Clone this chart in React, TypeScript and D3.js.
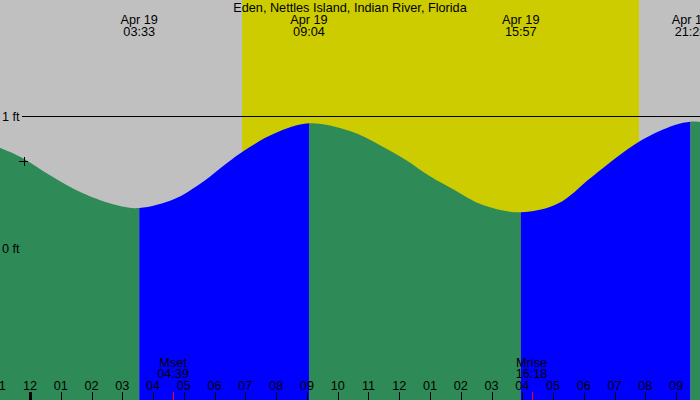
import React from "react";
import * as d3 from "d3";

const W = 700;
const H = 400;

const title = "Eden, Nettles Island, Indian River, Florida";

// Tide curve, hours from midnight Apr 19, height in feet
const tideHours = [-1.0, -0.228, 0.65, 1.72, 2.83, 3.55, 4.71, 5.52, 6.86, 7.96, 9.067, 10.4, 11.375, 12.19, 13.0, 13.81, 14.72, 15.95, 17.16, 18.26, 19.79, 20.96, 21.467, 21.9];
const tideFeet = [0.763, 0.682, 0.553, 0.417, 0.326, 0.305, 0.375, 0.486, 0.722, 0.869, 0.945, 0.886, 0.78, 0.672, 0.545, 0.44, 0.328, 0.273, 0.339, 0.54, 0.805, 0.932, 0.957, 0.953];

// Tide extremes
const extremeHours = [3.55, 9.067, 15.95, 21.467];
const extremeDates = ["Apr 19", "Apr 19", "Apr 19", "Apr 19"];
const extremeTimes = ["03:33", "09:04", "15:57", "21:28"];

// Sun
const sunriseHour = 6.89;
const sunsetHour = 19.79;

// Moon
const moonLabels = ["Mset", "Mrise"];
const moonTimes = ["04:39", "16:18"];
const moonHours = [4.65, 16.3];

// Hour ticks
const hourTicks = [-1, 0, 1, 2, 3, 4, 5, 6, 7, 8, 9, 10, 11, 12, 13, 14, 15, 16, 17, 18, 19, 20, 21];
const hourLabels = ["11", "12", "01", "02", "03", "04", "05", "06", "07", "08", "09", "10", "11", "12", "01", "02", "03", "04", "05", "06", "07", "08", "09"];

// Y ticks
const feetTicks = [0, 1];
const feetLabels = ["0 ft", "1 ft"];

// current time marker
const nowHour = -0.211;
const nowFeet = 0.66;

const COLORS = {
  bg: "#c0c0c0",
  day: "#cccc00",
  fall: "#2e8b57",
  rise: "#0000ff",
};

const FONT = "'Liberation Sans', Arial, sans-serif";
const FS = 12.7;

export default function App() {
  const x = d3.scaleLinear().domain([-0.975, 21.775]).range([0, W]);
  const y = d3.scaleLinear().domain([0, 1]).range([248.5, 116]);

  const pts: [number, number][] = tideHours.map((h, i) => [h, tideFeet[i]]);
  const area = d3
    .area<[number, number]>()
    .x((d) => x(d[0]))
    .y0(H)
    .y1((d) => y(d[1]))
    .curve(d3.curveCatmullRom.alpha(0.5));
  const areaPath = area(pts) || "";

  // Segments between extremes: alternate falling (green) / rising (blue)
  const bounds = [-2, ...extremeHours, 23];
  const segs = bounds.slice(0, -1).map((b, i) => ({
    x0: x(b),
    x1: x(bounds[i + 1]),
    color: i % 2 === 0 ? COLORS.fall : COLORS.rise,
  }));

  return (
    <svg
      width={W}
      height={H}
      style={{ position: "absolute", left: 0, top: 0, fontFamily: FONT }}
    >
      <defs>
        {segs.map((s, i) => (
          <clipPath id={`seg${i}`} key={i}>
            <rect x={s.x0} y={0} width={Math.max(0, s.x1 - s.x0)} height={H} />
          </clipPath>
        ))}
      </defs>
      <rect x={0} y={0} width={W} height={H} fill={COLORS.bg} />
      <rect
        x={x(sunriseHour)}
        y={0}
        width={x(sunsetHour) - x(sunriseHour)}
        height={H}
        fill={COLORS.day}
      />
      {segs.map((s, i) => (
        <path key={i} d={areaPath} fill={s.color} clipPath={`url(#seg${i})`} />
      ))}

      {/* 1 ft line */}
      <line x1={22} x2={W} y1={y(1)} y2={y(1)} stroke="#000" strokeWidth={1} shapeRendering="crispEdges" />

      {feetTicks.map((v, i) => (
        <text key={i} x={2} y={y(v) + 4.5} fontSize={FS} fill="#000">
          {feetLabels[i]}
        </text>
      ))}

      {/* current time marker */}
      <g stroke="#000" strokeWidth={1} shapeRendering="crispEdges">
        <line x1={x(nowHour) - 4.5} x2={x(nowHour) + 4.5} y1={y(nowFeet) + 0.5} y2={y(nowFeet) + 0.5} />
        <line x1={x(nowHour) + 0.5} x2={x(nowHour) + 0.5} y1={y(nowFeet) - 4.5} y2={y(nowFeet) + 4.5} />
      </g>

      {/* title */}
      <text x={W / 2} y={11.5} fontSize={FS} textAnchor="middle" fill="#000">
        {title}
      </text>

      {/* extreme labels */}
      {extremeHours.map((h, i) => (
        <g key={i} fontSize={FS} textAnchor="middle" fill="#000">
          <text x={x(h)} y={24}>{extremeDates[i]}</text>
          <text x={x(h)} y={36}>{extremeTimes[i]}</text>
        </g>
      ))}

      {/* hour ticks */}
      {hourTicks.map((h, i) => {
        const px = Math.round(x(h));
        const midnight = h % 24 === 0;
        return (
          <g key={i}>
            <line
              x1={px + 0.5}
              x2={px + 0.5}
              y1={392}
              y2={H}
              stroke="#000"
              strokeWidth={midnight ? 3 : 1}
              shapeRendering="crispEdges"
            />
            <text x={x(h)} y={389.5} fontSize={FS} textAnchor="middle" fill="#000">
              {hourLabels[i]}
            </text>
          </g>
        );
      })}

      {/* moon events */}
      {moonHours.map((h, i) => (
        <g key={i}>
          <line
            x1={Math.round(x(h)) + 0.5}
            x2={Math.round(x(h)) + 0.5}
            y1={392}
            y2={H}
            stroke="#ff0000"
            strokeWidth={1}
            shapeRendering="crispEdges"
          />
          <text x={x(h)} y={366.5} fontSize={FS} textAnchor="middle" fill="#000">
            {moonLabels[i]}
          </text>
          <text x={x(h)} y={378} fontSize={FS} textAnchor="middle" fill="#000">
            {moonTimes[i]}
          </text>
        </g>
      ))}
    </svg>
  );
}
